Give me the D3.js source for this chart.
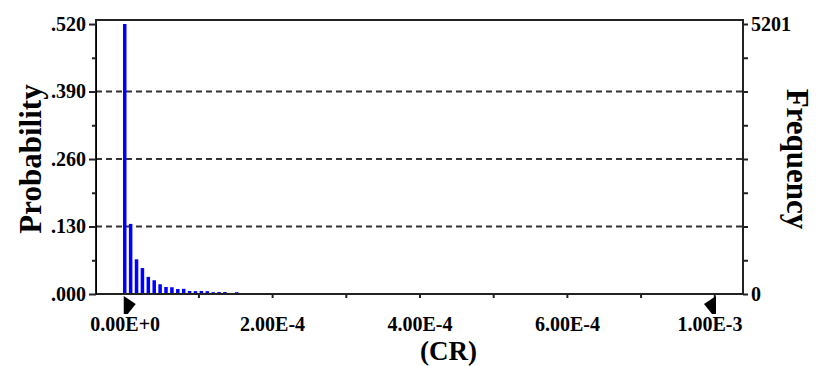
<!DOCTYPE html>
<html><head><meta charset="utf-8">
<script src="https://cdn.jsdelivr.net/npm/d3@7"></script>
<style>
html,body{margin:0;padding:0;background:#fff;}
svg{display:block;}
text{font-family:"Liberation Serif","Times New Roman",serif;font-weight:bold;fill:#000;}
</style></head>
<body>
<svg id="chart" width="816" height="366"></svg>
<script>
// ---- data ----
const trials = 10000;
const binWidth = 8e-6;
const binIndex = [0,1,2,3,4,5,6,7,8,9,10,11,12,13,14,15,16,17,18,19];
const frequency = [5201,1350,668,500,330,265,188,135,130,96,100,58,55,58,55,35,38,38,0,35];
const probTicks = [0, 0.13, 0.26, 0.39, 0.52];
const probMinor = [0.065, 0.195, 0.325, 0.455];
const gridValues = [0.13, 0.26, 0.39];
const xMajorTicks = [0, 2e-4, 4e-4, 6e-4];
const xMinorTicks = [1e-4, 2e-4, 3e-4, 4e-4, 5e-4, 6e-4, 7e-4, 8e-4];
const xDomain = [-3.9e-5, 8.39e-4];
const freqMax = 5201;
const leftGrabber = 0;
const rightGrabberLabel = 1e-3;
const xTitle = "(CR)", yLeftTitle = "Probability", yRightTitle = "Frequency";

// ---- layout ----
const L = 96, R = 743, T = 24, B = 294, frameTop = 20;
const svg = d3.select("#chart");

const x = d3.scaleLinear().domain(xDomain).range([L, R]);
const yP = d3.scaleLinear().domain([0, freqMax / trials]).range([B, T]);
const yF = d3.scaleLinear().domain([0, freqMax]).range([B, T]);

const sci = d => d.toExponential(2).toUpperCase();
const probFmt = d => d3.format(".3f")(d).replace(/^0/, "");
const tickFont = "20px";

// gridlines
svg.append("g").selectAll("line").data(gridValues).join("line")
  .attr("x1", L).attr("x2", R)
  .attr("y1", d => yP(d)).attr("y2", d => yP(d))
  .attr("stroke", "#333").attr("stroke-width", 2)
  .attr("stroke-dasharray", "6,4");

// bars
const bars = binIndex.map((b, i) => ({c: b * binWidth, p: frequency[i] / trials}));
const bw = 3.5;
svg.append("g").selectAll("rect").data(bars.filter(d => d.p > 0)).join("rect")
  .attr("x", d => x(d.c) - bw / 2)
  .attr("width", bw)
  .attr("y", d => yP(d.p))
  .attr("height", d => B - yP(d.p))
  .attr("fill", "#0000ff");

// frame
svg.append("rect").attr("x", L).attr("y", frameTop).attr("width", R - L).attr("height", B - frameTop)
  .attr("fill", "none").attr("stroke", "#222").attr("stroke-width", 2);

// left axis
const gl = svg.append("g").attr("transform", `translate(${L},0)`)
  .call(d3.axisLeft(yP).tickValues(probTicks).tickFormat(probFmt).tickSize(7).tickSizeOuter(0).tickPadding(3));
gl.append("g").call(d3.axisLeft(yP).tickValues(probMinor).tickFormat("").tickSize(4).tickSizeOuter(0));

// right axis
const fTicks = d3.range(0, 9).map(i => i * freqMax / 8);
const gr = svg.append("g").attr("transform", `translate(${R},0)`)
  .call(d3.axisRight(yF).tickValues(fTicks)
    .tickFormat(d => (d === 0 || d === freqMax) ? d3.format("d")(d) : "")
    .tickSize(5).tickSizeOuter(0).tickPadding(3));

// bottom axis ticks
const gb = svg.append("g").attr("transform", `translate(0,${B})`)
  .call(d3.axisBottom(x).tickValues(xMinorTicks).tickFormat("").tickSize(4).tickSizeOuter(0));
const gbl = svg.append("g").attr("transform", `translate(0,${B})`)
  .call(d3.axisBottom(x).tickValues(xMajorTicks).tickFormat(sci).tickSize(0).tickSizeOuter(0));
gbl.selectAll("text").attr("y", 37).attr("dy", 0);

[gl, gr, gb, gbl].forEach(g => {
  g.select(".domain").remove();
  g.selectAll("line").attr("stroke", "#222").attr("stroke-width", 2);
  g.selectAll("text").style("font-size", tickFont).style("font-family", '"Liberation Serif",serif').style("font-weight", "bold");
});

// grabbers
const gx0 = x(leftGrabber) - 1;
svg.append("path")
  .attr("d", `M${gx0},${B + 2} L${gx0 + 12},${B + 10} L${gx0 + 4},${B + 20} L${gx0},${B + 20} Z`)
  .attr("fill", "#000");
const gx1 = x.range()[1] - 27;
svg.append("path")
  .attr("d", `M${gx1},${B + 2} L${gx1 - 12},${B + 10} L${gx1 - 4},${B + 20} L${gx1},${B + 20} Z`)
  .attr("fill", "#000");
svg.append("text").attr("x", gx1 - 6).attr("y", B + 37).attr("text-anchor", "middle")
  .style("font-size", tickFont).text(sci(rightGrabberLabel));

// titles
svg.append("text").attr("x", (L + R) / 2 + 29).attr("y", 359.5).attr("text-anchor", "middle")
  .style("font-size", "27px").text(xTitle);
svg.append("text").attr("transform", `translate(41,${(T + B) / 2}) rotate(-90)`)
  .attr("text-anchor", "middle").style("font-size", "31px").text(yLeftTitle);
svg.append("text").attr("transform", `translate(787,${(T + B) / 2}) rotate(90)`)
  .attr("text-anchor", "middle").style("font-size", "31px").text(yRightTitle);
</script>
</body></html>
